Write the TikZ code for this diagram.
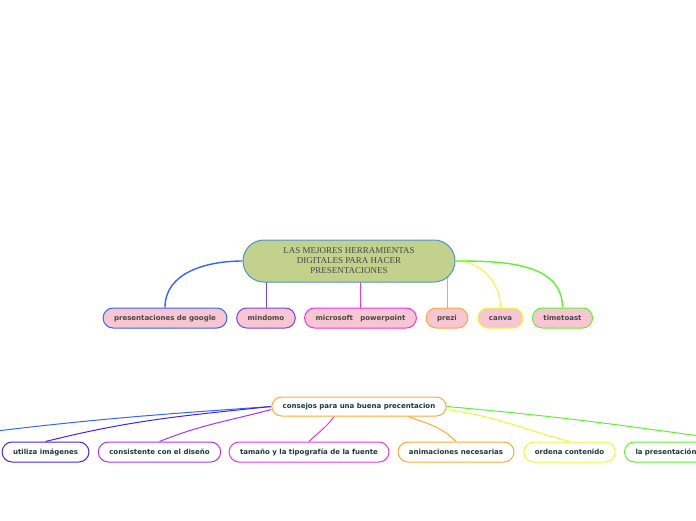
\documentclass[tikz,border=0pt]{standalone}
\usepackage{fontspec}
\setmainfont{Liberation Serif}
\newfontfamily\verd{DejaVu Sans}
\usetikzlibrary{backgrounds}
\definecolor{leaf}{HTML}{C2D18C}
\definecolor{leafline}{HTML}{4B96CF}
\definecolor{pinkbox}{HTML}{F8C6D2}
\definecolor{greytext}{HTML}{474747}
\definecolor{tealtext}{HTML}{1C3A3A}
\definecolor{cblue}{HTML}{3366FF}
\definecolor{cindigo}{HTML}{4422EE}
\definecolor{cpurple}{HTML}{7744EE}
\definecolor{cviolet}{HTML}{AA33FF}
\definecolor{cmagenta}{HTML}{EE33EE}
\definecolor{corange}{HTML}{FFAA33}
\definecolor{cyellow}{HTML}{E2FF33}
\definecolor{cgreen}{HTML}{5CF52A}
\tikzset{
	topic/.style={draw=leafline,fill=leaf,line width=1pt,rounded corners=21pt,minimum width=212pt,minimum height=42pt,align=center,text=greytext,font=\fontsize{9}{10}\selectfont},
	tool/.style={draw=#1,fill=pinkbox,line width=1pt,rounded corners=10pt,minimum height=20pt,inner xsep=11pt,inner ysep=0pt,text height=5.6pt,text depth=1.4pt,text=greytext,font=\verd\bfseries\fontsize{7}{8}\selectfont},
	tip/.style={draw=#1,fill=white,line width=1pt,rounded corners=10pt,minimum height=20pt,inner xsep=11pt,inner ysep=0pt,text height=5.6pt,text depth=1.4pt,text=tealtext,font=\verd\bfseries\fontsize{7}{8}\selectfont},
	link/.style={draw=#1,line width=1pt}
}
\begin{document}
\begin{tikzpicture}[x=1pt,y=1pt]
	\path[use as bounding box,clip] (0,0) rectangle (696,-520);
	\node[topic] (main) at (349,-261) {LAS MEJORES HERRAMIENTAS\\DIGITALES PARA HACER\\PRESENTACIONES};
	\node[tool=cblue] (google) at (165,-318) {presentaciones de google};
	\node[tool=cpurple] (mindomo) at (266,-318) {mindomo};
	\node[tool=cmagenta] (powerpoint) at (360.5,-318) {microsoft\ \ \ powerpoint};
	\node[tool=corange] (prezi) at (447,-318) {prezi};
	\node[tool=cyellow] (canva) at (500.5,-318) {canva};
	\node[tool=cgreen] (timetoast) at (562.5,-318) {timetoast};
	\node[tip=corange,minimum height=19pt] (consejos) at (359,-406.5) {consejos para una buena precentacion};
	\node[tip=cindigo] (imagenes) at (45.5,-452) {utiliza imágenes};
	\node[tip=cviolet] (diseno) at (159.5,-452) {consistente con el diseño};
	\node[tip=cmagenta] (tipografia) at (309,-452) {tamaño y la tipografía de la fuente};
	\node[tip=corange] (animaciones) at (456,-452) {animaciones necesarias};
	\node[tip=cyellow] (ordena) at (569.5,-452) {ordena contenido};
	\node[tip=cgreen,anchor=west,text width=206pt,align=left] (presentacion) at (624,-452) {la presentación};
	\coordinate (farleft) at (-20,-433);
	\begin{scope}[on background layer]
		\draw[link=cblue,line width=1.4pt] (main.west) to[out=180,in=90] (google.north);
		\draw[link=cpurple] (mindomo.north |- main.center) -- (mindomo.north);
		\draw[link=cmagenta] (powerpoint.north |- main.center) -- (powerpoint.north);
		\draw[link=corange] (prezi.north |- main.center) -- (prezi.north);
		\draw[link=cyellow] (main.east) to[out=0,in=90] (canva.north);
		\draw[link=cgreen,line width=1.4pt] (main.east) to[out=0,in=90] (timetoast.north);
		\draw[link=cblue] (consejos.west) to[out=184,in=7] (farleft);
		\draw[link=cindigo] (consejos.west) to[out=186,in=14] (imagenes.north);
		\draw[link=cviolet] ([yshift=-3pt]consejos.west) to[out=195,in=22] (diseno.north);
		\draw[link=cmagenta] ([xshift=-25pt]consejos.south) to[out=-125,in=45] (tipografia.north);
		\draw[link=corange] ([xshift=49pt]consejos.south) to[out=-20,in=135] (animaciones.north);
		\draw[link=cyellow] ([yshift=-3pt]consejos.east) to[out=-8,in=165] (ordena.north);
		\draw[link=cgreen] (consejos.east) to[out=-5,in=172] (presentacion.north);
	\end{scope}
\end{tikzpicture}
\end{document}
